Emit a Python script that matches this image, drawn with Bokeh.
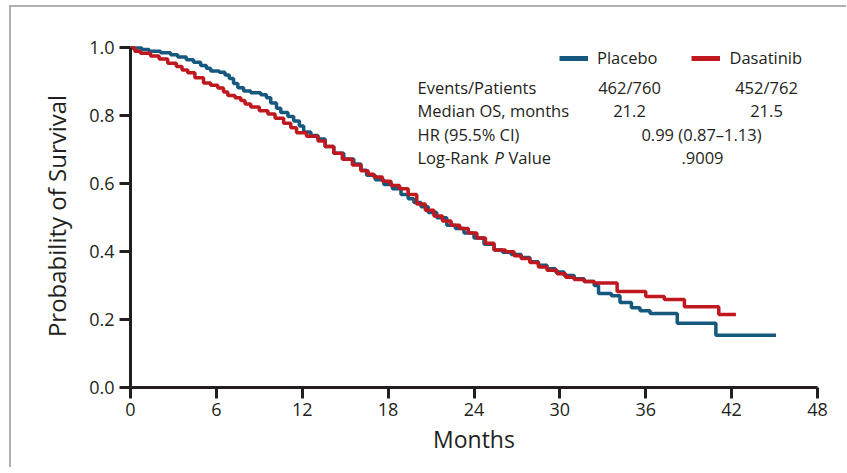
from bokeh.plotting import figure
from bokeh.embed import file_html
from bokeh.resources import INLINE
from bokeh.models import Label, Legend, LegendItem, FixedTicker, PrintfTickFormatter

# ---- data ----
placebo_t = [0, 0.8, 1.3, 2.1, 2.8, 3.3, 3.9, 4.4, 4.9, 5.3, 5.6, 6.2, 6.6, 6.9, 7.2, 7.5,
             7.9, 8.4, 9.1, 9.5, 9.8, 10.2, 10.5, 11.0, 11.4, 11.8, 12.1, 12.6, 13.1, 13.6,
             14.2, 14.9, 15.6, 16.1, 16.5, 17.1, 17.7, 18.3, 18.9, 19.4, 19.8, 20.3, 20.8,
             21.4, 22.1, 22.7, 23.3, 24.0, 24.7, 25.4, 26.0, 26.6, 27.3, 27.9, 28.5, 29.1,
             29.7, 30.3, 31.0, 31.7, 32.4, 32.7, 33.6, 34.2, 35.0, 35.6, 36.3, 38.2, 40.9, 45.1]
placebo_s = [1.0, 0.995, 0.99, 0.986, 0.98, 0.973, 0.965, 0.958, 0.948, 0.94, 0.932, 0.928,
             0.92, 0.91, 0.895, 0.883, 0.873, 0.868, 0.862, 0.853, 0.838, 0.822, 0.81, 0.798,
             0.785, 0.77, 0.752, 0.742, 0.732, 0.71, 0.69, 0.673, 0.658, 0.64, 0.625, 0.612,
             0.598, 0.585, 0.568, 0.556, 0.545, 0.532, 0.515, 0.5, 0.478, 0.468, 0.455, 0.44,
             0.422, 0.405, 0.398, 0.392, 0.383, 0.37, 0.36, 0.35, 0.34, 0.33, 0.32, 0.312,
             0.30, 0.277, 0.27, 0.25, 0.235, 0.226, 0.218, 0.189, 0.154, 0.154]

dasatinib_t = [0, 0.3, 0.7, 1.4, 2.0, 2.6, 3.2, 3.6, 4.0, 4.5, 5.1, 5.6, 6.1, 6.5, 6.8, 7.3,
               7.7, 8.0, 8.4, 9.0, 9.6, 10.1, 10.7, 11.2, 11.6, 12.3, 13.1, 13.6, 14.2, 14.8,
               15.5, 16.1, 16.6, 17.0, 17.6, 18.2, 18.8, 19.4, 20.0, 20.6, 21.2, 21.8, 22.4,
               23.0, 23.6, 24.2, 24.8, 25.4, 26.2, 26.8, 27.3, 27.9, 28.5, 29.1, 29.8, 30.4,
               31.0, 31.7, 32.4, 34.0, 36.0, 37.3, 38.7, 41.1, 42.3]
dasatinib_s = [1.0, 0.99, 0.984, 0.976, 0.967, 0.955, 0.945, 0.935, 0.927, 0.912, 0.897, 0.89,
               0.882, 0.87, 0.86, 0.853, 0.845, 0.835, 0.826, 0.815, 0.805, 0.793, 0.778, 0.765,
               0.75, 0.74, 0.726, 0.71, 0.69, 0.672, 0.655, 0.638, 0.628, 0.62, 0.607, 0.595,
               0.585, 0.568, 0.54, 0.522, 0.505, 0.49, 0.478, 0.468, 0.455, 0.44, 0.425, 0.405,
               0.4, 0.388, 0.38, 0.368, 0.355, 0.345, 0.335, 0.325, 0.318, 0.312, 0.308, 0.283,
               0.268, 0.259, 0.238, 0.215, 0.215]

series_names = ["Placebo", "Dasatinib"]
x_ticks = [0, 6, 12, 18, 24, 30, 36, 42, 48]
y_ticks = [0.0, 0.2, 0.4, 0.6, 0.8, 1.0]

row_labels = ["Events/Patients", "Median OS, months", "HR (95.5% CI)"]
placebo_stats = ["462/760", "21.2"]
dasatinib_stats = ["452/762", "21.5"]
hr_text = "0.99 (0.87\u20131.13)"
p_value_text = ".9009"

BLUE = "#17587f"
RED = "#c0181f"
INK = "#231f20"
FONT = "Open Sans"
TXT = "16.5px"

p = figure(frame_width=687, frame_height=343,
           x_range=(0, 48), y_range=(0, 1.01),
           output_backend="svg", toolbar_location=None,
           min_border_left=119, min_border_right=29,
           min_border_top=37, min_border_bottom=80,
           margin=(5, 0, 0, 9),
           background_fill_color="white", border_fill_color="white")
p.styles = {"border-top": "2px solid #b0b0b0", "border-left": "2px solid #b0b0b0"}
p.outline_line_color = None
p.grid.visible = False

r_pl = p.step(placebo_t, placebo_s, mode="after", line_color=BLUE, line_width=3.5)
r_da = p.step(dasatinib_t, dasatinib_s, mode="after", line_color=RED, line_width=3.5)
# legend swatches: single-point lines draw nothing on the plot, only their legend glyphs
k_pl = p.line(x=placebo_t[:1], y=placebo_s[:1], line_color=BLUE, line_width=5)
k_da = p.line(x=dasatinib_t[:1], y=dasatinib_s[:1], line_color=RED, line_width=5)

for ax in (p.xaxis[0], p.yaxis[0]):
    ax.axis_line_color = INK
    ax.axis_line_width = 3
    ax.major_tick_line_color = INK
    ax.major_tick_line_width = 3
    ax.major_tick_out = 11
    ax.major_tick_in = 0
    ax.minor_tick_line_color = None
    ax.major_label_text_font = FONT
    ax.major_label_text_font_size = "18px"
    ax.major_label_text_color = INK
    ax.axis_label_text_font = FONT
    ax.axis_label_text_font_style = "normal"
    ax.axis_label_text_color = INK

p.xaxis.ticker = FixedTicker(ticks=x_ticks)
p.yaxis.ticker = FixedTicker(ticks=y_ticks)
p.yaxis.formatter = PrintfTickFormatter(format="%.1f")
p.yaxis.bounds = (0, 1)
p.xaxis.bounds = (0, 48)
p.xaxis.major_label_standoff = 4
p.yaxis.major_label_standoff = 5
p.xaxis.axis_label = "Months"
p.xaxis.axis_label_text_font_size = "23px"
p.xaxis.axis_label_standoff = 4
p.yaxis.axis_label = "Probability of Survival"
p.yaxis.axis_label_text_font_size = "24px"
p.yaxis.axis_label_standoff = 13

legend = Legend(items=[LegendItem(label=series_names[0], renderers=[k_pl]),
                       LegendItem(label=series_names[1], renderers=[k_da])],
                orientation="horizontal", location=(429, 318),
                glyph_width=29, glyph_height=20, label_standoff=9, spacing=34,
                padding=0, margin=0, border_line_color=None, background_fill_alpha=0,
                label_text_font=FONT, label_text_font_size=TXT, label_text_color=INK)
p.add_layout(legend, "center")


def px_to_x(px):
    return (px - 130) / (687 / 48)


def py_to_y(py):
    return (387 - py) * 1.01 / 343


def put(txt, px, py, align="left", style="normal"):
    p.add_layout(Label(x=px_to_x(px), y=py_to_y(py), text=txt, text_font=FONT,
                       text_font_size=TXT, text_color=INK, text_baseline="middle",
                       text_align=align, text_font_style=style))


row_py = [87, 110, 134]
for txt, py in zip(row_labels, row_py):
    put(txt, 417, py)
for txt, py in zip(placebo_stats, row_py[:2]):
    put(txt, 629, py, "center")
for txt, py in zip(dasatinib_stats, row_py[:2]):
    put(txt, 766, py, "center")
put(hr_text, 701, 134, "center")
put(p_value_text, 702, 157, "center")
# "Log-Rank P Value" with italic P
put("Log-Rank", 417, 157)
put("P", 494, 157, style="italic")
put("Value", 508, 157)

open("out.html", "w").write(file_html(p, INLINE))
